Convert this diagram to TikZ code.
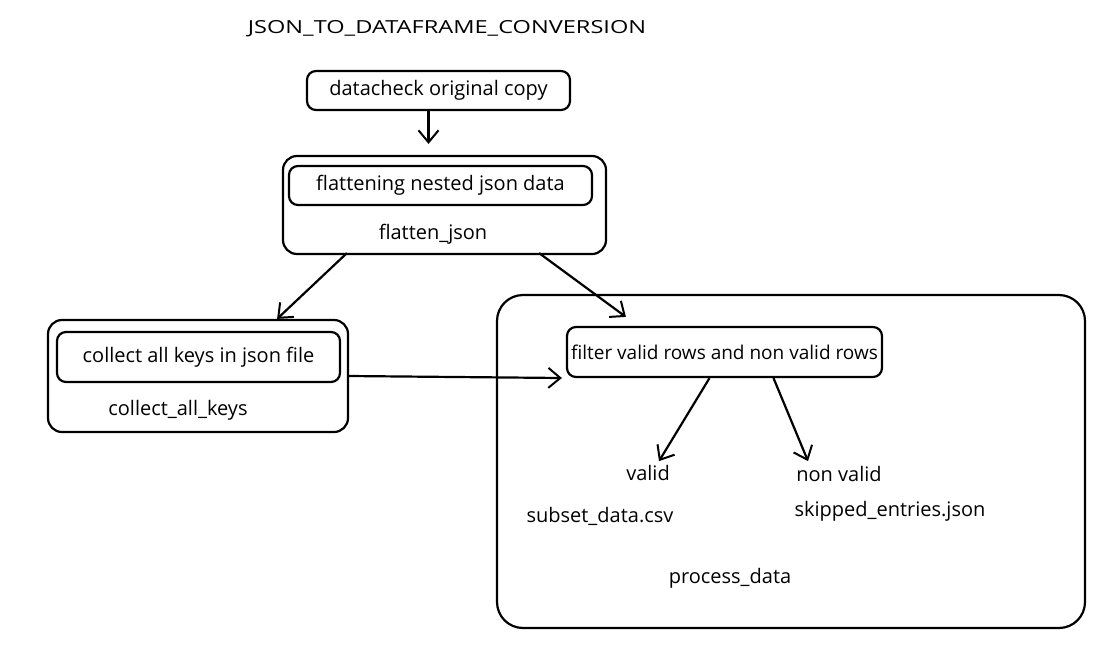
\documentclass[tikz,border=0pt]{standalone}
\usepackage{fontspec}
\setmainfont{Open Sans}
\usetikzlibrary{arrows.meta,calc}
\begin{document}
\begin{tikzpicture}[x=1pt,y=1pt,
  box/.style={draw,line width=2.2pt,rounded corners=9pt,inner sep=0pt},
  bigbox/.style={draw,line width=2.2pt,rounded corners=14pt,inner sep=0pt},
  procbox/.style={draw,line width=2.2pt,rounded corners=26pt,inner sep=0pt},
  lbl/.style={inner sep=1pt,font=\fontsize{20}{22}\selectfont},
  ttl/.style={inner sep=1pt,font=\fontsize{18}{20}\selectfont},
  conn/.style={line width=2.2pt,-{Straight Barb[length=12pt,width=20pt,line width=2pt]}}
]
\useasboundingbox (0,0) rectangle (1107,-646);
% title
\node[ttl] (title) at (447,-29) {\scalebox{1.31}[1]{JSON\_TO\_DATAFRAME\_CONVERSION}};
% datacheck
\node[box,minimum width=263pt,minimum height=39pt,lbl] (datacheck) at (438.5,-90.5) {datacheck original copy};
% flatten
\node[bigbox,minimum width=323pt,minimum height=98pt] (flattenouter) at (444.5,-205) {};
\node[box,minimum width=303pt,minimum height=39pt,lbl] (flatteninner) at (440.5,-185.5) {flattening nested json data};
\node[lbl] (flattenlabel) at (433,-234) {flatten\_json};
% collect
\node[bigbox,minimum width=300pt,minimum height=112pt] (collectouter) at (198,-376) {};
\node[box,minimum width=283pt,minimum height=50pt,lbl] (collectinner) at (198.5,-357) {collect all keys in json file};
\node[lbl] (collectlabel) at (178,-410) {collect\_all\_keys};
% process
\node[procbox,minimum width=588pt,minimum height=333pt] (processouter) at (791,-461.5) {};
\node[box,minimum width=315pt,minimum height=50pt,lbl,font=\fontsize{19}{21}\selectfont] (filter) at (724.5,-352) {filter valid rows and non valid rows};
\node[lbl] (valid) at (648,-473) {valid};
\node[lbl] (nonvalid) at (839,-474) {non valid};
\node[lbl] (subset) at (600,-516) {subset\_data.csv};
\node[lbl] (skipped) at (890,-511) {skipped\_entries.json};
\node[lbl] (processlabel) at (730,-578) {process\_data};
% connectors
\draw[conn] ($(datacheck.south)+(-10,0)$) -- ($(flattenouter.north)+(-16,11)$);
\draw[conn] ($(flattenouter.south west)+(65,2)$) -- ($(collectouter.north east)+(-72,0)$);
\draw[conn] ($(flattenouter.south east)+(-68,2)$) -- ($(filter.north west)+(60,9)$);
\draw[conn] (collectouter.east) -- ($(filter.west |- collectouter.east)+(-4,-2)$);
\draw[conn] ($(filter.south)+(-15,0)$) -- ($(valid.north)+(11,3)$);
\draw[conn] ($(filter.south)+(49,0)$) -- ($(nonvalid.north)+(-31,4)$);
\end{tikzpicture}
\end{document}
